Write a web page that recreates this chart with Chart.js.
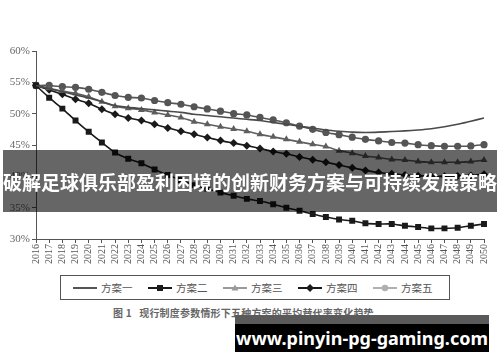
<!DOCTYPE html>
<html>
<head>
<meta charset="utf-8">
<script src="https://cdn.jsdelivr.net/npm/chart.js@4/dist/chart.umd.min.js"></script>
<style>
  html, body { margin: 0; padding: 0; background: #fff; }
  #wrap { position: relative; width: 500px; height: 362px; overflow: hidden; background: #fff; }
  #c { position: absolute; left: 0; top: 0; }
  #legend { position: absolute; left: 60px; top: 275px; width: 388px; height: 23px; border: 1px solid #555; box-sizing: content-box; }
  .item { position: absolute; top: 0; height: 23px; display: flex; align-items: center; font: 10.5px "Noto Sans CJK SC", sans-serif; color: #555; }
  .item svg { margin-right: 4px; }
  #caption { position: absolute; left: 113px; top: 305px; font: bold 10px "Noto Sans CJK SC", sans-serif; color: #666; white-space: nowrap; letter-spacing: 0.2px; }
  #banner { position: absolute; left: 3px; top: 150px; width: 494px; height: 62px; background: rgba(0,0,0,0.6); color: #fff; font: bold 19px "Noto Sans CJK SC", sans-serif; display: flex; align-items: center; justify-content: center; white-space: nowrap; }
  #mark { position: absolute; left: 235px; top: 315px; width: 254px; height: 37px; background: linear-gradient(#5a5a5a 0, #5a5a5a 9px, #000 9px); color: #fff; font: bold 18px "Noto Sans", "Open Sans", sans-serif; display: flex; align-items: center; justify-content: center; padding-top: 8px; box-sizing: border-box; white-space: nowrap; }
</style>
</head>
<body>
<div id="wrap">
  <canvas id="c" width="500" height="275"></canvas>
  <div id="legend"></div>
  <div id="caption">图 1&nbsp;&nbsp;&nbsp;现行制度参数情形下五种方案的平均替代率变化趋势</div>
  <div id="banner">破解足球俱乐部盈利困境的创新财务方案与可持续发展策略</div>
  <div id="mark">www.pinyin-pg-gaming.com</div>
</div>
<script>
const years = ['2016','2017','2018','2019','2020','2021','2022','2023','2024','2025','2026','2027','2028','2029','2030','2031','2032','2033','2034','2035','2036','2037','2038','2039','2040','2041','2042','2043','2044','2045','2046','2047','2048','2049','2050'];
const seriesNames = ['方案一','方案二','方案三','方案四','方案五'];
const plan1 = [54.5,54.0,53.5,53.0,52.5,51.9,51.3,51.0,50.8,50.6,50.4,50.2,49.9,49.7,49.5,49.3,49.1,48.9,48.6,48.3,48.0,47.7,47.4,47.2,47.05,47.0,47.05,47.15,47.25,47.4,47.6,47.9,48.3,48.8,49.3];
const plan2 = [54.5,52.55,50.8,48.9,47.1,45.4,43.8,42.8,42.1,41.1,40.2,39.4,38.6,38.0,37.4,36.9,36.4,36.05,35.55,35.0,34.5,34.0,33.5,33.1,32.9,32.5,32.4,32.4,32.1,31.9,31.7,31.7,31.8,32.1,32.4];
const plan3 = [54.5,54.05,53.6,53.25,52.7,51.9,51.2,50.85,50.6,50.2,49.8,49.4,48.7,48.3,47.9,47.55,47.2,46.7,46.3,45.9,45.5,45.1,44.75,44.1,43.7,43.25,43.0,42.7,42.6,42.35,42.25,42.25,42.25,42.35,42.6];
const plan4 = [54.5,53.8,53.1,52.3,51.65,50.7,49.9,49.3,48.9,48.3,47.7,47.2,46.7,46.2,45.7,45.3,44.9,44.45,43.95,43.6,43.1,42.65,42.25,41.8,41.35,40.95,40.6,40.4,40.2,40.1,40.0,40.0,40.05,40.15,40.35];
const plan5 = [54.5,54.5,54.3,54.2,53.9,53.4,52.9,52.6,52.5,52.1,51.75,51.5,51.1,50.75,50.4,50.0,49.8,49.4,49.0,48.55,48.0,47.5,47.0,46.65,46.25,45.9,45.65,45.4,45.3,45.05,44.9,44.8,44.8,44.85,45.05];
const yTicks = [30,35,40,45,50,55,60];

const styles = [
  { color: '#4a4a4a', legend: '#555', point: false, radius: 0 },
  { color: '#1a1a1a', legend: '#1a1a1a', point: 'rect', radius: 4.2 },
  { color: '#5e5e5e', legend: '#9a9a9a', point: 'triangle', radius: 4 },
  { color: '#1a1a1a', legend: '#1a1a1a', point: 'rectRot', radius: 4 },
  { color: '#555555', legend: '#b0b0b0', point: 'circle', radius: 3.6 }
];
const allData = [plan1, plan2, plan3, plan4, plan5];

const datasets = allData.map((d, i) => ({
  label: seriesNames[i],
  data: d,
  borderColor: styles[i].color,
  backgroundColor: styles[i].color,
  borderWidth: 1.6,
  pointStyle: styles[i].point,
  pointRadius: styles[i].radius,
  pointBorderWidth: 0,
  tension: 0.2,
  order: i
}));

new Chart(document.getElementById('c'), {
  type: 'line',
  data: { labels: years, datasets },
  options: {
    responsive: false,
    animation: false,
    devicePixelRatio: 1,
    layout: { padding: { left: 0, right: 16, top: 51, bottom: 0 } },
    plugins: { legend: { display: false }, tooltip: { enabled: false } },
    scales: {
      x: {
        type: 'category',
        offset: false,
        grid: { display: true, drawOnChartArea: false, drawTicks: true, tickLength: 4, color: '#555' },
        border: { display: true, color: '#555', width: 1 },
        ticks: { autoSkip: false, maxRotation: 90, minRotation: 90, padding: 1, color: '#555', font: { family: '"Liberation Serif", "DejaVu Serif", serif', size: 10 } },
        afterFit: s => { s.height = 36; }
      },
      y: {
        min: 30, max: 60,
        afterBuildTicks: s => { s.ticks = yTicks.map(v => ({ value: v })); },
        grid: { display: true, drawOnChartArea: false, drawTicks: true, tickLength: 4, color: '#555' },
        border: { display: true, color: '#555', width: 1 },
        ticks: { padding: 2, color: '#666', font: { family: '"Liberation Serif", "DejaVu Serif", serif', size: 11 }, callback: v => v + '%' },
        afterFit: s => { s.width = 36; }
      }
    }
  }
});

// HTML legend
const legend = document.getElementById('legend');
seriesNames.forEach((name, i) => {
  const st = styles[i];
  const div = document.createElement('div');
  div.className = 'item';
  div.style.left = (12 + i * 75) + 'px';
  let marker = '';
  const c = st.legend;
  if (st.point === 'rect') marker = `<rect x="9" y="3" width="6" height="6" fill="${c}"/>`;
  if (st.point === 'triangle') marker = `<polygon points="12,2.5 15.5,8.5 8.5,8.5" fill="${c}"/>`;
  if (st.point === 'rectRot') marker = `<polygon points="12,2 16,6 12,10 8,6" fill="${c}"/>`;
  if (st.point === 'circle') marker = `<circle cx="12" cy="6" r="3.3" fill="${c}"/>`;
  div.innerHTML = `<svg width="24" height="12"><line x1="0" y1="6" x2="24" y2="6" stroke="${c}" stroke-width="2"/>${marker}</svg><span>${name}</span>`;
  legend.appendChild(div);
});
</script>
</body>
</html>
